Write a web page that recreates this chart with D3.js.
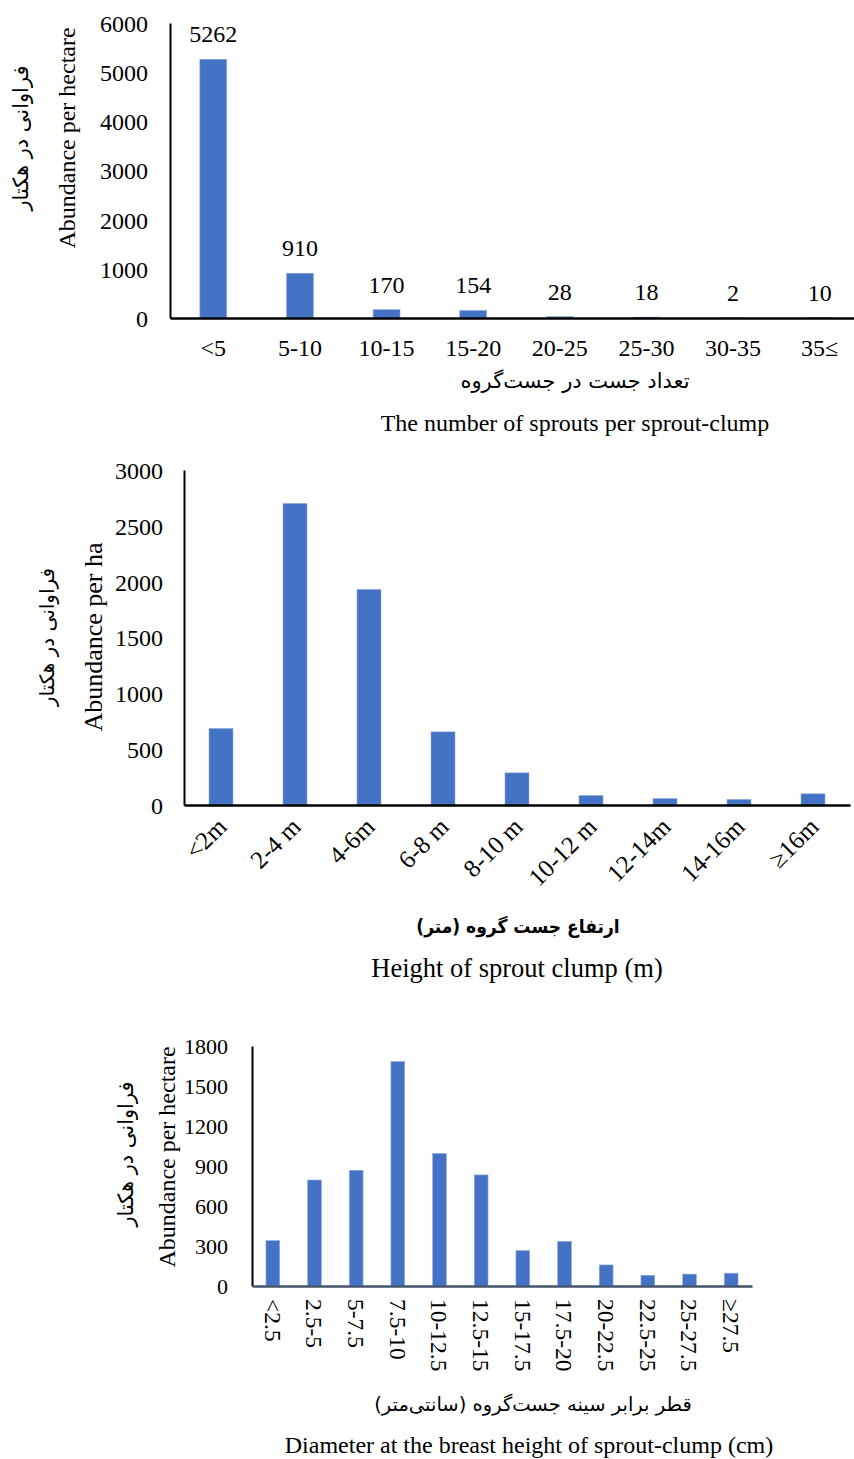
<!DOCTYPE html>
<html><head><meta charset="utf-8">
<script src="https://cdn.jsdelivr.net/npm/d3@7"></script>
<style>
body{margin:0;background:#fff;}
text{font-family:"Liberation Serif","Times New Roman",serif;fill:#000;}
.fa{font-family:"DejaVu Sans",sans-serif;}
.fac{font-family:"DejaVu Sans Condensed","DejaVu Sans",sans-serif;font-stretch:condensed;}
</style></head>
<body>
<svg id="c" width="854" height="1459"></svg>
<script>
// ---------- data ----------
const cat1 = ["<5","5-10","10-15","15-20","20-25","25-30","30-35","35≤"];
const val1 = [5262,910,170,154,28,18,2,10];
const ticks1 = [0,1000,2000,3000,4000,5000,6000];

const cat2 = ["<2m","2-4 m","4-6m","6-8 m","8-10 m","10-12 m","12-14m","14-16m","≥16m"];
const val2 = [685,2700,1930,655,288,85,57,50,100];
const ticks2 = [0,500,1000,1500,2000,2500,3000];

const cat3 = ["<2.5","2.5-5","5-7.5","7.5-10","10-12.5","12.5-15","15-17.5","17.5-20","20-22.5","22.5-25","25-27.5","≥27.5"];
const val3 = [340,795,868,1683,993,833,265,335,158,80,89,96];
const ticks3 = [0,300,600,900,1200,1500,1800];

const svg = d3.select("#c");
const barColor = "#4472C4";

function chart(o){
  const g = svg.append("g");
  const x = d3.scaleBand().domain(o.cats).range([o.x0,o.x1]).paddingInner(o.pad).paddingOuter(o.pad/2);
  const y = d3.scaleLinear().domain([0,o.max]).range([o.y0,o.y1]);
  g.selectAll("rect.bar").data(o.vals).join("rect")
    .attr("x",(d,i)=>x(o.cats[i])).attr("width",x.bandwidth())
    .attr("y",d=>y(d)).attr("height",d=>y(0)-y(d))
    .attr("fill",barColor).attr("stroke","#8fa9dc").attr("stroke-width",0.6);
  const ya = d3.axisLeft(y).tickValues(o.ticks).tickFormat(d3.format("d")).tickSize(0).tickPadding(o.tp).tickSizeOuter(0);
  const yg = g.append("g").attr("transform",`translate(${o.x0},0)`).call(ya);
  yg.select(".domain").attr("stroke","#000").attr("stroke-width",2);
  yg.selectAll(".tick text").attr("font-size",o.fs).attr("font-family","Liberation Serif").attr("fill","#000").attr("dy","0.35em");
  const xa = d3.axisBottom(x).tickSize(0).tickSizeOuter(0).tickFormat("");
  const xg = g.append("g").attr("transform",`translate(0,${o.y0})`).call(xa);
  xg.select(".domain").attr("stroke",o.xaxisColor).attr("stroke-width",2.5);
  return {g,x,y};
}

// ---------- chart 1 ----------
{
  const o={cats:cat1,vals:val1,ticks:ticks1,max:6000,x0:170,x1:863,y0:318,y1:23,pad:0.69,tp:22,fs:24,xaxisColor:"#000"};
  const {g,x,y}=chart(o);
  g.selectAll("text.vl").data(val1).join("text").attr("class","vl")
    .attr("x",(d,i)=>x(cat1[i])+x.bandwidth()/2).attr("y",d=>y(d)-17)
    .attr("text-anchor","middle").attr("font-size",24).text(d=>d);
  g.selectAll("text.xl").data(cat1).join("text").attr("class","xl")
    .attr("x",d=>x(d)+x.bandwidth()/2).attr("y",356)
    .attr("text-anchor","middle").attr("font-size",24).text(d=>d);
  g.append("text").attr("class","fa").attr("x",575).attr("y",388).attr("text-anchor","middle")
    .attr("font-size",21).attr("direction","rtl").text("تعداد جست در جست‌گروه");
  g.append("text").attr("x",575).attr("y",431).attr("text-anchor","middle").attr("font-size",24)
    .text("The number of sprouts per sprout-clump");
  g.append("text").attr("transform","translate(75,138) rotate(-90)").attr("text-anchor","middle")
    .attr("font-size",24).text("Abundance per hectare");
  g.append("text").attr("class","fa").attr("transform","translate(28,138) rotate(-90)").attr("text-anchor","middle")
    .attr("font-size",21).attr("direction","rtl").text("فراوانی در هکتار");
}

// ---------- chart 2 ----------
{
  const o={cats:cat2,vals:val2,ticks:ticks2,max:3000,x0:184,x1:850,y0:805,y1:470,pad:0.676,tp:21,fs:24,xaxisColor:"#000"};
  const {g,x,y}=chart(o);
  g.selectAll("text.xl").data(cat2).join("text").attr("class","xl")
    .attr("transform",d=>`translate(${x(d)+x.bandwidth()/2+1},${822}) rotate(-45)`)
    .attr("text-anchor","end").attr("font-size",25).attr("dy","0.35em").text(d=>d);
  g.append("text").attr("class","fac").attr("x",518).attr("y",933).attr("text-anchor","middle")
    .attr("font-size",19).attr("font-weight","bold").attr("direction","rtl").text("ارتفاع جست گروه (متر)");
  g.append("text").attr("x",517).attr("y",977).attr("text-anchor","middle").attr("font-size",26.5)
    .text("Height of sprout clump (m)");
  g.append("text").attr("transform","translate(102,637) rotate(-90)").attr("text-anchor","middle")
    .attr("font-size",26).text("Abundance per ha");
  g.append("text").attr("class","fa").attr("transform","translate(54,637) rotate(-90)").attr("text-anchor","middle")
    .attr("font-size",20).attr("direction","rtl").text("فراوانی در هکتار");
}

// ---------- chart 3 ----------
{
  const o={cats:cat3,vals:val3,ticks:ticks3,max:1800,x0:252,x1:752,y0:1286,y1:1046,pad:0.67,tp:24,fs:22,xaxisColor:"#44546A"};
  const {g,x,y}=chart(o);
  g.selectAll("text.xl").data(cat3).join("text").attr("class","xl")
    .attr("transform",d=>`translate(${x(d)+x.bandwidth()/2},${1299}) rotate(90)`)
    .attr("text-anchor","start").attr("font-size",23.5).attr("dy","0.35em").text(d=>d);
  g.append("text").attr("class","fa").attr("x",533).attr("y",1411).attr("text-anchor","middle")
    .attr("font-size",19.5).attr("direction","rtl").text("قطر برابر سینه جست‌گروه (سانتی‌متر)");
  g.append("text").attr("x",529).attr("y",1453).attr("text-anchor","middle").attr("font-size",24)
    .text("Diameter at the breast height of sprout-clump (cm)");
  g.append("text").attr("transform","translate(175,1157) rotate(-90)").attr("text-anchor","middle")
    .attr("font-size",24).text("Abundance per hectare");
  g.append("text").attr("class","fa").attr("transform","translate(133,1154) rotate(-90)").attr("text-anchor","middle")
    .attr("font-size",21).attr("direction","rtl").text("فراوانی در هکتار");
}
</script>
</body></html>
